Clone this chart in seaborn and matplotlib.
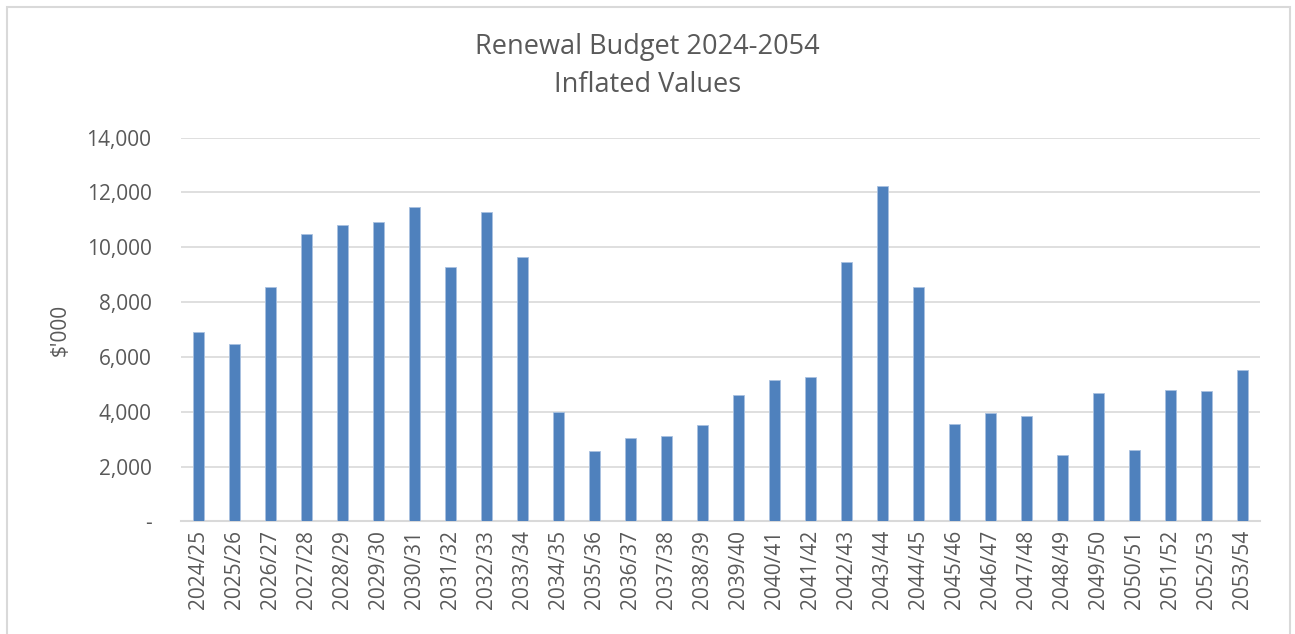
import matplotlib
matplotlib.use("Agg")
import matplotlib.pyplot as plt
import matplotlib.patches as mpatches
import seaborn as sns
import pandas as pd

# chart data ($'000, inflated values)
years = ["2024/25", "2025/26", "2026/27", "2027/28", "2028/29", "2029/30",
         "2030/31", "2031/32", "2032/33", "2033/34", "2034/35", "2035/36",
         "2036/37", "2037/38", "2038/39", "2039/40", "2040/41", "2041/42",
         "2042/43", "2043/44", "2044/45", "2045/46", "2046/47", "2047/48",
         "2048/49", "2049/50", "2050/51", "2051/52", "2052/53", "2053/54"]
budget = [6900, 6460, 8550, 10500, 10810, 10930, 11460, 9280, 11300, 9640,
          3995, 2575, 3035, 3110, 3535, 4625, 5160, 5280, 9460, 12250,
          8550, 3560, 3960, 3850, 2440, 4700, 2610, 4800, 4750, 5525]
y_ticks = [0, 2000, 4000, 6000, 8000, 10000, 12000, 14000]
y_tick_labels = ["-", "2,000", "4,000", "6,000", "8,000", "10,000", "12,000", "14,000"]

df = pd.DataFrame({"Year": years, "Budget": budget})

sns.set_style("white")
plt.rcParams["font.family"] = ["Open Sans", "DejaVu Sans"]

txt = "#595959"
grid = "#D9D9D9"

fig = plt.figure(figsize=(12.95, 6.34), dpi=100)
ax = fig.add_axes([0.1395, 0.1775, 0.8337, 0.6056])

sns.barplot(data=df, x="Year", y="Budget", color="#4F81BD", width=0.31,
            saturation=1, edgecolor="#A9C1E0", linewidth=0.6, ax=ax, zorder=3)

ax.set_ylim(0, 14000)
ax.set_xlim(-0.5, len(years) - 0.5)
ax.set_yticks(y_ticks)
ax.set_yticklabels(y_tick_labels)
ax.yaxis.grid(True, color=grid, linewidth=1.2, zorder=0)
ax.set_axisbelow(True)
for s in ["top", "right", "left"]:
    ax.spines[s].set_visible(False)
ax.spines["bottom"].set_color(grid)
ax.spines["bottom"].set_linewidth(1.5)
ax.tick_params(axis="both", length=0, colors=txt, labelsize=15)
ax.tick_params(axis="y", pad=21)
ax.tick_params(axis="x", pad=6)
plt.setp(ax.get_xticklabels(), rotation=90)
ax.set_xlabel("")
ax.set_ylabel("$'000", color=txt, fontsize=15, labelpad=11)

fig.text(0.5, 0.926, "Renewal Budget 2024-2054", ha="center", va="center",
         fontsize=19.5, color=txt)
fig.text(0.5, 0.866, "Inflated Values", ha="center", va="center",
         fontsize=19.5, color=txt)

# chart border
fig.patches.append(mpatches.Rectangle((7 / 1295, -0.05), 1283 / 1295, 1.05 - 7 / 634,
                                      transform=fig.transFigure, fill=False,
                                      edgecolor=grid, linewidth=1.5))

fig.savefig("out.png", dpi=100)
